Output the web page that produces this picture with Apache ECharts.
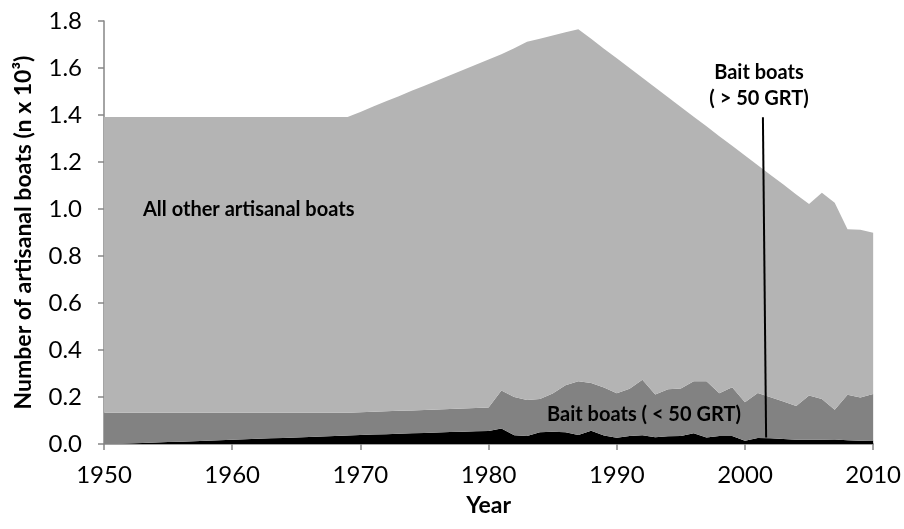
<!DOCTYPE html>
<html>
<head>
<meta charset="utf-8">
<script src="https://cdn.jsdelivr.net/npm/echarts@6/dist/echarts.min.js"></script>
<style>
  html, body { margin: 0; padding: 0; background: #ffffff; }
  #chart { width: 904px; height: 529px; }
</style>
</head>
<body>
<div id="chart"></div>
<script>
// Years covered by the series
const years = [];
for (let y = 1950; y <= 2010; y++) years.push(String(y));

// Total artisanal boats (thousands) — upper edge of the stacked areas
const totalBoats = [
  1.391, 1.391, 1.391, 1.391, 1.391, 1.391, 1.391, 1.391, 1.391, 1.391,
  1.391, 1.391, 1.391, 1.391, 1.391, 1.391, 1.391, 1.391, 1.391, 1.391,
  1.413, 1.436, 1.458, 1.480, 1.503, 1.525, 1.547, 1.569, 1.592, 1.614,
  1.636, 1.658, 1.684, 1.712, 1.725, 1.738, 1.752, 1.765, 1.724, 1.682,
  1.641, 1.600, 1.558, 1.517, 1.476, 1.434, 1.393, 1.352, 1.310, 1.269,
  1.228, 1.186, 1.145, 1.104, 1.062, 1.021, 1.069, 1.027, 0.914, 0.912,
  0.899
];

// All bait boats together (thousands)
const baitBoatsAll = [
  0.133, 0.133, 0.133, 0.133, 0.133, 0.133, 0.133, 0.133, 0.133, 0.133,
  0.133, 0.133, 0.133, 0.133, 0.133, 0.133, 0.133, 0.133, 0.133, 0.133,
  0.135, 0.137, 0.139, 0.141, 0.143, 0.145, 0.147, 0.149, 0.151, 0.153,
  0.155, 0.228, 0.200, 0.187, 0.192, 0.215, 0.250, 0.267, 0.260, 0.240,
  0.216, 0.235, 0.273, 0.211, 0.233, 0.236, 0.267, 0.267, 0.216, 0.242,
  0.178, 0.217, 0.199, 0.181, 0.162, 0.206, 0.192, 0.146, 0.210, 0.198,
  0.213
];

// Bait boats above 50 GRT (thousands)
const baitBoatsLarge = [
  0.000, 0.000, 0.002, 0.004, 0.006, 0.008, 0.010, 0.012, 0.014, 0.016,
  0.018, 0.020, 0.022, 0.024, 0.026, 0.028, 0.030, 0.032, 0.034, 0.036,
  0.038, 0.040, 0.042, 0.044, 0.046, 0.047, 0.049, 0.051, 0.052, 0.054,
  0.055, 0.066, 0.037, 0.034, 0.050, 0.052, 0.050, 0.038, 0.056, 0.036,
  0.027, 0.034, 0.037, 0.029, 0.033, 0.034, 0.046, 0.028, 0.034, 0.034,
  0.014, 0.026, 0.025, 0.021, 0.018, 0.018, 0.018, 0.019, 0.016, 0.014,
  0.015
];

const yTickLabels = ['0.0', '0.2', '0.4', '0.6', '0.8', '1.0', '1.2', '1.4', '1.6', '1.8'];
const xTickLabels = ['1950', '1960', '1970', '1980', '1990', '2000', '2010'];

// Per-group values for stacking
const r3 = v => Math.round(v * 1000) / 1000;
const baitBoatsSmall = baitBoatsAll.map((v, i) => r3(v - baitBoatsLarge[i]));
const otherBoats = totalBoats.map((v, i) => r3(v - baitBoatsAll[i]));

const FONT = 'Lato, "Open Sans", sans-serif';
const AXIS_GREY = '#868686';
const decade = (idx, val) => xTickLabels.indexOf(String(val)) >= 0;

const chart = echarts.init(document.getElementById('chart'), null, { renderer: 'canvas' });

function areaSeries(name, data, color) {
  return {
    name: name,
    type: 'line',
    stack: 'boats',
    data: data,
    symbol: 'none',
    showSymbol: false,
    lineStyle: { width: 0 },
    areaStyle: { color: color, opacity: 1 },
    itemStyle: { color: color },
    silent: true,
    animation: false
  };
}

function labelText(text, pos, extra) {
  return Object.assign({
    type: 'text', z: 100, silent: true,
    style: Object.assign({
      text: text, fontFamily: FONT, fontWeight: 'bold', fontSize: 20, fill: '#000'
    }, extra || {})
  }, pos);
}

chart.setOption({
  animation: false,
  backgroundColor: '#ffffff',
  grid: { left: 104, right: 29, top: 21, bottom: 85, containLabel: false },
  xAxis: {
    type: 'category',
    data: years,
    boundaryGap: false,
    name: 'Year',
    nameLocation: 'middle',
    nameGap: 50,
    nameTextStyle: { fontFamily: FONT, fontWeight: 'bold', fontSize: 23, color: '#000' },
    axisLine: { show: true, lineStyle: { color: AXIS_GREY, width: 1.5 } },
    axisTick: { show: true, length: 6, interval: decade, lineStyle: { color: AXIS_GREY, width: 1.5 } },
    axisLabel: {
      fontFamily: FONT, fontSize: 24, color: '#000', margin: 19,
      interval: decade, showMinLabel: true, showMaxLabel: true
    },
    splitLine: { show: false }
  },
  yAxis: {
    type: 'value',
    min: 0,
    max: 1.8,
    interval: 0.2,
    name: 'Number of artisanal boats (n x 10³)',
    nameLocation: 'middle',
    nameGap: 69,
    nameTextStyle: { fontFamily: FONT, fontWeight: 'bold', fontSize: 23, color: '#000' },
    axisLine: { show: true, lineStyle: { color: AXIS_GREY, width: 1.5 } },
    axisTick: { show: true, length: 6, lineStyle: { color: AXIS_GREY, width: 1.5 } },
    axisLabel: {
      fontFamily: FONT, fontSize: 24, color: '#000', margin: 22,
      formatter: v => yTickLabels[Math.round(v / 0.2)]
    },
    splitLine: { show: false }
  },
  series: [
    areaSeries('Bait boats ( > 50 GRT)', baitBoatsLarge, '#000000'),
    areaSeries('Bait boats ( < 50 GRT)', baitBoatsSmall, '#828282'),
    areaSeries('All other artisanal boats', otherBoats, '#b4b4b4')
  ]
});

// Leader line from the "> 50 GRT" label down to its thin band, placed through the axes
const px = (cat, v) => chart.convertToPixel({ gridIndex: 0 }, [cat, v]);
const a = px('2001', 1.39), b = px('2002', 1.39), c = px('2001', 0.028);
const yearStep = b[0] - a[0];
const lineTop = [a[0] + 0.4 * yearStep, a[1]];
const lineBottom = [a[0] + 0.65 * yearStep, c[1]];

chart.setOption({
  graphic: [
    {
      type: 'line', z: 100, silent: true,
      shape: { x1: lineTop[0], y1: lineTop[1], x2: lineBottom[0], y2: lineBottom[1] },
      style: { stroke: '#000', lineWidth: 2 }
    },
    labelText('All other artisanal boats', { left: 143, top: 200 }),
    labelText('Bait boats ( < 50 GRT)', { x: 644, y: 415 }, { align: 'center', verticalAlign: 'middle' }),
    labelText('Bait boats\n( > 50 GRT)', { x: 759, y: 86 }, { lineHeight: 26, align: 'center', verticalAlign: 'middle' })
  ]
});
</script>
</body>
</html>
